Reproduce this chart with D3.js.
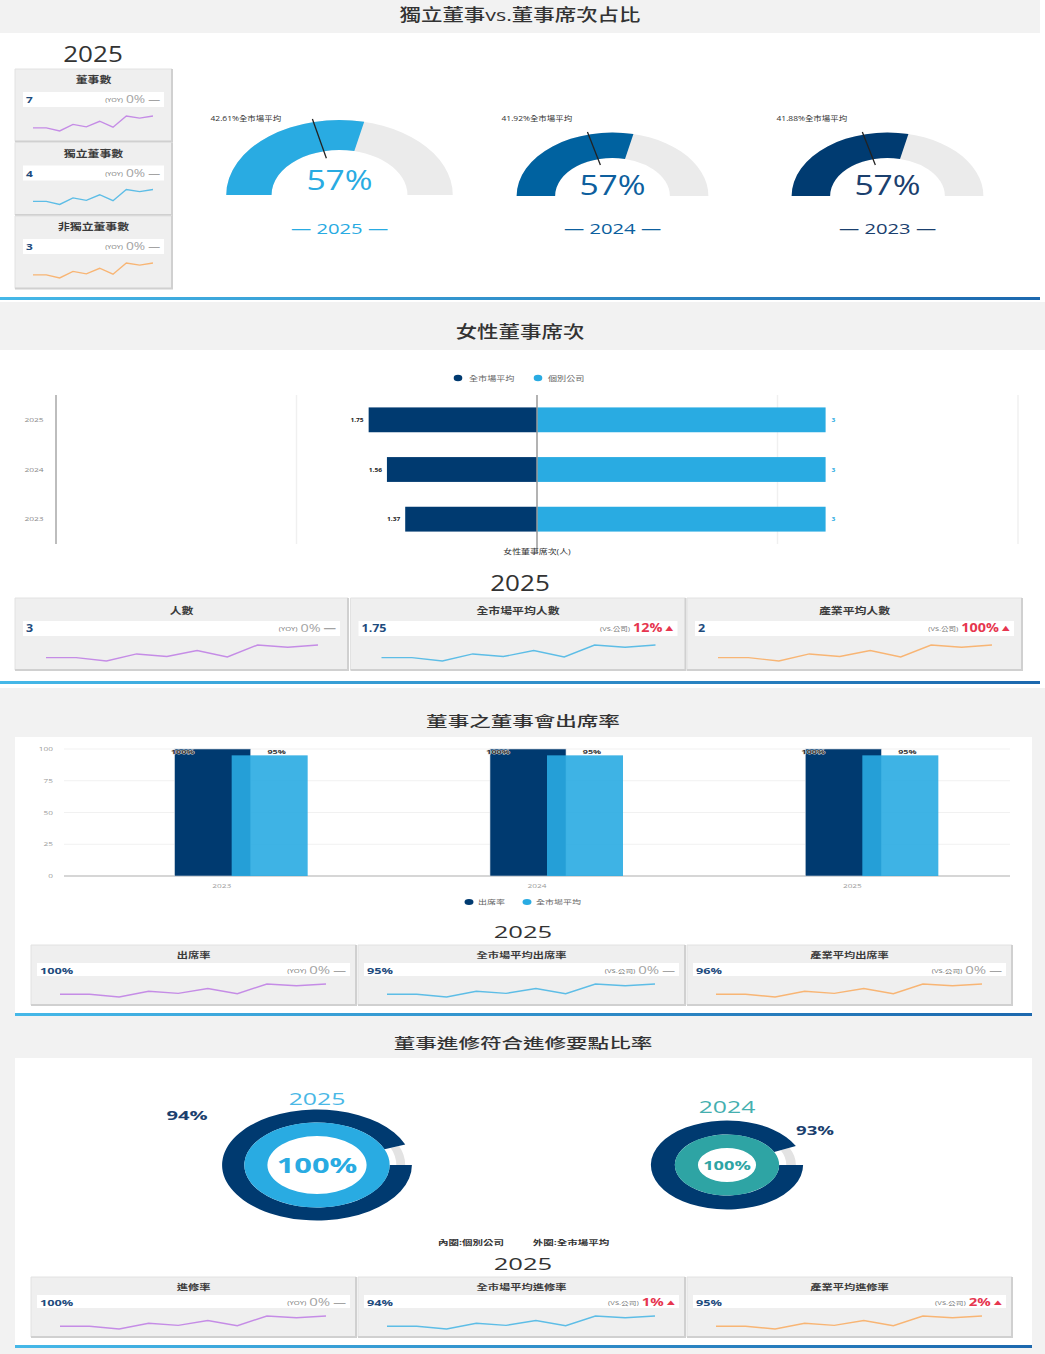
<!DOCTYPE html>
<html><head><meta charset="utf-8">
<script src="https://cdn.jsdelivr.net/npm/d3@7"></script>
<style>
html,body{margin:0;padding:0;background:#fff;}
svg{display:block;}
text{font-family:"Open Sans","Noto Sans CJK TC",sans-serif;}
</style></head><body>
<svg id="chart"></svg>
<script>
// ---------------- data ----------------
const gaugeYears = ["2025", "2024", "2023"];
const independentShare = [57, 57, 57];
const marketAvgShare = [42.61, 41.92, 41.88];

const boardKpiTitles = ["董事數", "獨立董事數", "非獨立董事數"];
const boardKpiValues = ["7", "4", "3"];
const boardKpiRefs = ["(YOY)", "(YOY)", "(YOY)"];
const boardKpiChange = [0, 0, 0];

const femaleYears = ["2025", "2024", "2023"];
const femaleMarket = [1.75, 1.56, 1.37];
const femaleCompany = [3, 3, 3];
const femaleGridTicks = [-5, -2.5, 0, 2.5, 5];
const femaleKpiTitles = ["人數", "全市場平均人數", "產業平均人數"];
const femaleKpiValues = ["3", "1.75", "2"];
const femaleKpiRefs = ["(YOY)", "(VS.公司)", "(VS.公司)"];
const femaleKpiChange = [0, 12, 100];

const attendYears = ["2023", "2024", "2025"];
const attendCompany = [100, 100, 100];
const attendMarket = [95, 95, 95];
const attendTicks = [0, 25, 50, 75, 100];
const attendKpiTitles = ["出席率", "全市場平均出席率", "產業平均出席率"];
const attendKpiValues = ["100%", "95%", "96%"];
const attendKpiRefs = ["(YOY)", "(VS.公司)", "(VS.公司)"];
const attendKpiChange = [0, 0, 0];

const trainYears = ["2025", "2024"];
const trainCompany = [100, 100];
const trainMarket = [94, 93];
const trainKpiTitles = ["進修率", "全市場平均進修率", "產業平均進修率"];
const trainKpiValues = ["100%", "94%", "95%"];
const trainKpiRefs = ["(YOY)", "(VS.公司)", "(VS.公司)"];
const trainKpiChange = [0, 1, 2];

const sparkTrend = [17, 17, 8, 27, 20, 36, 19, 51, 45, 51];

// ---------------- styles ----------------
const W = 1045, H = 1354;
const NAVY = "#003a70", SKY = "#29abe2";
const sparkColors = ["#c58ce6", "#5dbde6", "#f8b574"];

const svg = d3.select("#chart").attr("width", W).attr("height", H);
const defs = svg.append("defs");
const lg = defs.append("linearGradient").attr("id", "bl").attr("x1", "0").attr("x2", "1");
lg.append("stop").attr("offset", "0").attr("stop-color", "#45b8e8");
lg.append("stop").attr("offset", "1").attr("stop-color", "#1c68ae");

function R(x, y, w, h, fill, p = svg) {
  return p.append("rect").attr("x", x).attr("y", y).attr("width", w).attr("height", h).attr("fill", fill);
}
function T(p, x, y, s, o = {}) {
  return p.append("text")
    .attr("transform", `translate(${x},${y}) scale(${o.sx ?? 1.3},1)`)
    .attr("text-anchor", o.anchor || "middle")
    .attr("font-size", o.size || 10)
    .attr("font-weight", o.weight || 400)
    .attr("fill", o.fill || "#333")
    .text(s);
}

// backgrounds
R(0, 0, W, H, "#ffffff");
R(0, 0, 1040, 33, "#f2f2f2");
R(0, 297, 1040, 3, "url(#bl)");
R(0, 302, W, 48, "#f2f2f2");
R(0, 681, 1040, 3, "url(#bl)");
R(0, 688, W, H - 688, "#f2f2f2");
R(15, 737, 1017, 276, "#ffffff");
R(15, 1013, 1017, 3, "url(#bl)");
R(15, 1058, 1017, 287, "#ffffff");
R(15, 1345, 1017, 3, "url(#bl)");

// section titles
T(svg, 520, 21, "獨立董事vs.董事席次占比", { size: 16.5, sx: 1.3, weight: 500 });
T(svg, 520, 338, "女性董事席次", { size: 16.5, sx: 1.3, weight: 500 });
T(svg, 523, 726, "董事之董事會出席率", { size: 14, sx: 1.54, weight: 500 });
T(svg, 523, 1048, "董事進修符合進修要點比率", { size: 14, sx: 1.54, weight: 500 });

// ---------------- KPI card ----------------
function kpiCard(x, y, w, L, title, value, ref, change, color) {
  const g = svg.append("g");
  R(x, y, w, L.h, "#efefef", g);
  g.append("path").attr("d", `M${x},${y + L.h}V${y}H${x + w}`).attr("fill", "none").attr("stroke", "#e2e2e2").attr("stroke-width", 1);
  g.append("path").attr("d", `M${x + w},${y}V${y + L.h}H${x}`).attr("fill", "none").attr("stroke", "#d0d0d0").attr("stroke-width", 2);
  T(g, x + w / 2, y + L.titleY, title, { size: L.titleSize, weight: 700, fill: "#3a3a3a", sx: L.sx });
  R(x + L.inset, y + L.rowY, w - 2 * L.inset, L.rowH, "#ffffff", g);
  T(g, x + L.inset + 3, y + L.valY, value, { anchor: "start", size: L.valSize, weight: 700, fill: "#1e4b7d", sx: L.sx });
  const up = change > 0;
  const col = up ? "#e6364f" : "#a3a3a3";
  let rx = x + w - L.inset - 4;
  const sym = T(g, rx, y + L.valY - (up ? 1 : 0), up ? "▲" : "—", { anchor: "end", size: up ? L.valSize * 0.65 : L.valSize, fill: col, sx: L.sx, weight: 700 });
  rx -= sym.node().getComputedTextLength() * L.sx + 3;
  const pct = T(g, rx, y + L.valY, change + "%", { anchor: "end", size: L.valSize + 1.5, weight: up ? 700 : 400, fill: col, sx: L.sx });
  rx -= pct.node().getComputedTextLength() * L.sx + 3;
  T(g, rx, y + L.valY - 1, ref, { anchor: "end", size: L.valSize * 0.6, fill: "#777", sx: L.sx });
  const xs = d3.scaleLinear().domain([0, sparkTrend.length - 1]).range([x + L.padL, x + w - L.padR]);
  const ys = d3.scaleLinear().domain(d3.extent(sparkTrend)).range([y + L.sparkBot, y + L.sparkTop]);
  g.append("path").datum(sparkTrend)
    .attr("d", d3.line().x((d, i) => xs(i)).y(d => ys(d)))
    .attr("fill", "none").attr("stroke", color).attr("stroke-width", 1.4);
}
const L1 = { h: 72.5, titleY: 14, rowY: 23, rowH: 15, valY: 34, sparkTop: 47, sparkBot: 62, padL: 18, padR: 19, titleSize: 9.5, valSize: 9.5, inset: 8, sx: 1.25 };
const L2 = { h: 72, titleY: 16, rowY: 23, rowH: 15, valY: 34, sparkTop: 47, sparkBot: 63, padL: 31, padR: 30, titleSize: 9.5, valSize: 10, inset: 8, sx: 1.25 };
const L3 = { h: 60, titleY: 13, rowY: 18, rowH: 13, valY: 28.5, sparkTop: 39, sparkBot: 52, padL: 29, padR: 30, titleSize: 7.5, valSize: 8.5, inset: 6, sx: 1.5 };

// ---------------- Section 1 ----------------
T(svg, 93, 62, "2025", { size: 21, sx: 1.24, fill: "#333" });
const boardCardY = [69, 142.5, 216];
boardKpiTitles.forEach((t, i) => kpiCard(15, boardCardY[i], 157, L1, t, boardKpiValues[i], boardKpiRefs[i], boardKpiChange[i], sparkColors[i]));

const gaugeAngle = d3.scaleLinear().domain([0, 100]).range([-Math.PI / 2, Math.PI / 2]);
const gaugeLayout = [
  { cx: 339.5, cy: 195, ro: 75, ri: 45, sx: 1.51, fill: "#29abe2", txt: "#29abe2", pctY: 190, labX: 210.5 },
  { cx: 612.5, cy: 196, ro: 63.5, ri: 38, sx: 1.51, fill: "#0062a0", txt: "#0d5f9e", pctY: 195, labX: 501.5 },
  { cx: 887.5, cy: 196, ro: 63.5, ri: 38, sx: 1.51, fill: "#003b71", txt: "#1b406e", pctY: 195, labX: 776.5 }
];
gaugeYears.forEach((yr, i) => {
  const Lg = gaugeLayout[i];
  const g = svg.append("g").attr("transform", `translate(${Lg.cx},${Lg.cy}) scale(${Lg.sx},1)`);
  const arc = d3.arc().innerRadius(Lg.ri).outerRadius(Lg.ro);
  g.append("path").attr("d", arc({ startAngle: -Math.PI / 2, endAngle: Math.PI / 2 })).attr("fill", "#ebebeb");
  g.append("path").attr("d", arc({ startAngle: -Math.PI / 2, endAngle: gaugeAngle(independentShare[i]) })).attr("fill", Lg.fill);
  const a = gaugeAngle(marketAvgShare[i]);
  const r0 = Lg.ri * 0.84, r1 = Lg.ro * 1.04;
  g.append("line")
    .attr("x1", r0 * Math.sin(a)).attr("y1", -r0 * Math.cos(a))
    .attr("x2", r1 * Math.sin(a)).attr("y2", -r1 * Math.cos(a))
    .attr("stroke", "#222").attr("stroke-width", 1.3).attr("vector-effect", "non-scaling-stroke");
  T(svg, Lg.labX, 121, marketAvgShare[i].toFixed(2) + "%全市場平均", { anchor: "start", size: 6.5, sx: 1.3, fill: "#333" });
  T(svg, Lg.cx, Lg.pctY, independentShare[i] + "%", { size: 28, sx: 1.2, fill: Lg.txt });
  T(svg, Lg.cx, 234, "— " + yr + " —", { size: 15, sx: 1.35, fill: Lg.txt });
});

// ---------------- Section 2: female bar ----------------
const fx = d3.scaleLinear().domain([-5, 5]).range([56, 1018]);
const fy = d3.scaleBand().domain(femaleYears).range([395, 544]).paddingInner(0.5).paddingOuter(0.25);
femaleGridTicks.forEach(t => {
  if (t === -5) svg.append("line").attr("x1", fx(t)).attr("x2", fx(t)).attr("y1", 395).attr("y2", 544).attr("stroke", "#bdbdbd").attr("stroke-width", 2);
  else if (t === 0) return;
  else svg.append("line").attr("x1", fx(t)).attr("x2", fx(t)).attr("y1", 395).attr("y2", 544).attr("stroke", "#f0f0f0").attr("stroke-width", 1.5);
});
femaleYears.forEach((yr, i) => {
  const y = fy(yr), bh = fy.bandwidth();
  svg.append("rect").attr("x", fx(-femaleMarket[i])).attr("y", y).attr("width", fx(0) - fx(-femaleMarket[i])).attr("height", bh).attr("fill", NAVY);
  svg.append("rect").attr("x", fx(0)).attr("y", y).attr("width", fx(femaleCompany[i]) - fx(0)).attr("height", bh).attr("fill", SKY);
  T(svg, fx(-femaleMarket[i]) - 5, y + bh / 2 + 2, femaleMarket[i].toFixed(2), { anchor: "end", size: 6, weight: 700, sx: 1.1, fill: "#222" });
  T(svg, fx(femaleCompany[i]) + 6, y + bh / 2 + 2, String(femaleCompany[i]), { anchor: "start", size: 6, weight: 700, sx: 1.1, fill: SKY });
  T(svg, 34, y + bh / 2 + 2, yr, { size: 6, sx: 1.4, fill: "#888" });
});
svg.append("line").attr("x1", fx(0)).attr("x2", fx(0)).attr("y1", 395).attr("y2", 552).attr("stroke", "#9a9a9a").attr("stroke-width", 1.5);
T(svg, fx(0), 554, "女性董事席次(人)", { size: 7, sx: 1.27, fill: "#333" });
// legend
svg.append("ellipse").attr("cx", 458).attr("cy", 378).attr("rx", 4.3).attr("ry", 3.3).attr("fill", NAVY);
T(svg, 469, 380.7, "全市場平均", { anchor: "start", size: 7, sx: 1.3, fill: "#666" });
svg.append("ellipse").attr("cx", 538).attr("cy", 378).attr("rx", 4.3).attr("ry", 3.3).attr("fill", SKY);
T(svg, 548, 380.7, "個別公司", { anchor: "start", size: 7, sx: 1.3, fill: "#666" });

T(svg, 520, 591, "2025", { size: 21, sx: 1.24, fill: "#333" });
const femaleCardX = [15, 350.5, 687], femaleCardW = [333, 335, 335];
femaleKpiTitles.forEach((t, i) => kpiCard(femaleCardX[i], 598, femaleCardW[i], L2, t, femaleKpiValues[i], femaleKpiRefs[i], femaleKpiChange[i], sparkColors[i]));

// ---------------- Section 3: attendance columns ----------------
const ax = d3.scaleBand().domain(attendYears).range([64, 1010]);
const ay = d3.scaleLinear().domain([0, 100]).range([876, 749]);
attendTicks.forEach(t => {
  svg.append("line").attr("x1", 64).attr("x2", 1010).attr("y1", ay(t)).attr("y2", ay(t))
    .attr("stroke", t === 0 ? "#c8c8c8" : "#f1f1f1").attr("stroke-width", t === 0 ? 1.5 : 1);
  T(svg, 53, ay(t) + 2, String(t), { anchor: "end", size: 5.5, sx: 1.5, fill: "#999" });
});
attendYears.forEach((yr, i) => {
  const c = ax(yr) + ax.bandwidth() / 2;
  const bw = 76;
  svg.append("rect").attr("x", c - 47).attr("y", ay(attendCompany[i])).attr("width", bw).attr("height", ay(0) - ay(attendCompany[i]))
    .attr("fill", NAVY).attr("stroke", "#c9d3dc").attr("stroke-width", 0.6);
  svg.append("rect").attr("x", c + 10).attr("y", ay(attendMarket[i])).attr("width", bw).attr("height", ay(0) - ay(attendMarket[i]))
    .attr("fill", SKY).attr("fill-opacity", 0.9);
  T(svg, c - 39, ay(attendCompany[i]) + 4.5, attendCompany[i] + "%", { size: 6, weight: 700, sx: 1.5, fill: "#333" })
    .attr("stroke", "#ddd").attr("stroke-width", 0.8).attr("paint-order", "stroke");
  T(svg, c + 55, ay(attendMarket[i]) - 1.5, attendMarket[i] + "%", { size: 6, weight: 700, sx: 1.5, fill: "#333" });
  T(svg, c, 888, yr, { size: 5.5, sx: 1.5, fill: "#999" });
});
svg.append("ellipse").attr("cx", 469).attr("cy", 902).attr("rx", 4.5).attr("ry", 3).attr("fill", NAVY);
T(svg, 478, 904, "出席率", { anchor: "start", size: 6, sx: 1.5, fill: "#666" });
svg.append("ellipse").attr("cx", 527).attr("cy", 902).attr("rx", 4.5).attr("ry", 3).attr("fill", SKY);
T(svg, 536, 904, "全市場平均", { anchor: "start", size: 6, sx: 1.5, fill: "#666" });

T(svg, 523, 938, "2025", { size: 16, sx: 1.6, fill: "#333" });
const row34X = [31, 358, 687], row34W = [325, 327, 325];
attendKpiTitles.forEach((t, i) => kpiCard(row34X[i], 945, row34W[i], L3, t, attendKpiValues[i], attendKpiRefs[i], attendKpiChange[i], sparkColors[i]));

// ---------------- Section 4: training donuts ----------------
const donutAngle = d3.scaleLinear().domain([0, 100]).range([Math.PI / 2, Math.PI / 2 + 2 * Math.PI]);
const donutLayout = [
  { cx: 317, cy: 1165, sx: 1.71, ro: 55.5, rm: 42.5, ri: 29, inner: "#29abe2", yearY: 1105, yearCol: "#4ab8e6", pctSize: 22, pctY: 1173, labX: 187, labY: 1120, labSize: 13 },
  { cx: 727, cy: 1165, sx: 1.71, ro: 44.5, rm: 30.5, ri: 17, inner: "#2ea4a4", yearY: 1113, yearCol: "#45afaf", pctSize: 13, pctY: 1169.5, labX: 815, labY: 1135, labSize: 12 }
];
trainYears.forEach((yr, i) => {
  const D = donutLayout[i];
  const g = svg.append("g").attr("transform", `translate(${D.cx},${D.cy}) scale(${D.sx},1)`);
  const th = D.ro - D.rm;
  g.append("path").attr("d", d3.arc()({ innerRadius: D.rm + th * 0.3, outerRadius: D.ro - th * 0.3, startAngle: donutAngle(trainMarket[i]), endAngle: donutAngle(100) })).attr("fill", "#e3e3e3");
  g.append("path").attr("d", d3.arc()({ innerRadius: D.rm, outerRadius: D.ro, startAngle: donutAngle(0), endAngle: donutAngle(trainMarket[i]) })).attr("fill", NAVY);
  g.append("path").attr("d", d3.arc()({ innerRadius: D.ri, outerRadius: D.rm, startAngle: donutAngle(0), endAngle: donutAngle(trainCompany[i]) })).attr("fill", D.inner);
  T(svg, D.cx, D.pctY, trainCompany[i] + "%", { size: D.pctSize, weight: 700, sx: 1.4, fill: D.inner });
  T(svg, D.cx, D.yearY, yr, { size: 16, sx: 1.55, fill: D.yearCol });
  T(svg, D.labX, D.labY, trainMarket[i] + "%", { size: D.labSize, weight: 700, sx: 1.55, fill: "#1b3f6e" });
});
T(svg, 471, 1245, "內圈:個別公司", { size: 7, weight: 700, sx: 1.5, fill: "#333" });
T(svg, 571, 1245, "外圈:全市場平均", { size: 7, weight: 700, sx: 1.5, fill: "#333" });

T(svg, 523, 1270, "2025", { size: 16, sx: 1.6, fill: "#333" });
trainKpiTitles.forEach((t, i) => kpiCard(row34X[i], 1277, row34W[i], L3, t, trainKpiValues[i], trainKpiRefs[i], trainKpiChange[i], sparkColors[i]));
</script>
</body></html>
